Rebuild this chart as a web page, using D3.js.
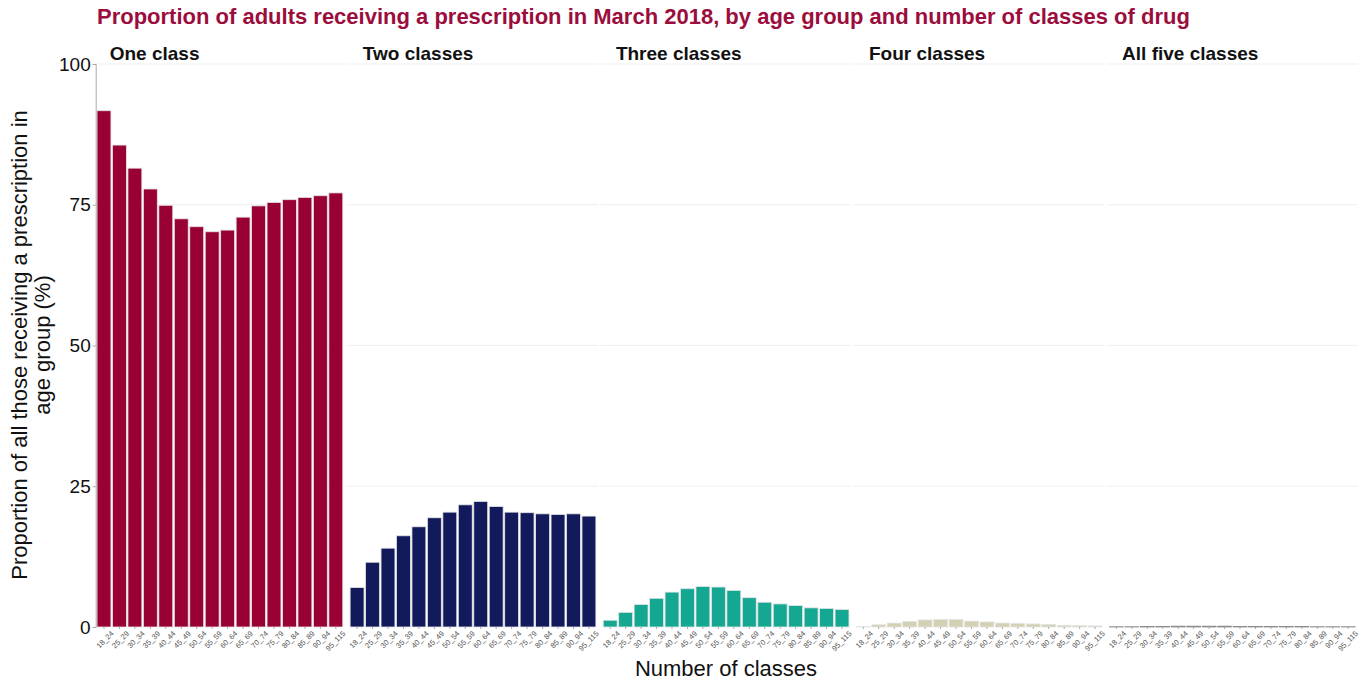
<!DOCTYPE html>
<meta charset="utf-8">
<style>
body { margin: 0; background: #fff; }
text { font-family: "Liberation Sans", Arial, sans-serif; }
.grid line { stroke: #efefef; stroke-width: 1; }
.xtick text { font-size: 7.5px; fill: #555; }
</style>
<svg width="1370" height="681"></svg>
<script src="https://cdn.jsdelivr.net/npm/d3@7"></script>
<script>

var ageGroups = ["18_24","25_29","30_34","35_39","40_44","45_49","50_54","55_59",
                 "60_64","65_69","70_74","75_79","80_84","85_89","90_94","95_115"];

var panelNames = ["One class", "Two classes", "Three classes", "Four classes", "All five classes"];
var panelColors = ["#990033", "#131a5c", "#14a892", "#d3d1b3", "#bdbdbd"];

var oneClass    = [91.7, 85.6, 81.5, 77.8, 74.9, 72.5, 71.1, 70.2, 70.5, 72.8, 74.8, 75.4, 75.9, 76.3, 76.6, 77.1];
var twoClasses  = [7.0, 11.5, 14.0, 16.2, 17.8, 19.4, 20.4, 21.7, 22.3, 21.4, 20.4, 20.3, 20.1, 20.0, 20.1, 19.7];
var threeClasses= [1.2, 2.6, 4.0, 5.1, 6.2, 6.8, 7.2, 7.1, 6.5, 5.2, 4.4, 4.1, 3.8, 3.4, 3.3, 3.1];
var fourClasses = [0.1, 0.4, 0.7, 1.0, 1.25, 1.35, 1.35, 1.05, 0.9, 0.7, 0.65, 0.55, 0.45, 0.3, 0.25, 0.2];
var fiveClasses = [0.05, 0.05, 0.1, 0.1, 0.15, 0.15, 0.15, 0.15, 0.1, 0.1, 0.1, 0.1, 0.1, 0.05, 0.05, 0.05];

var series = [oneClass, twoClasses, threeClasses, fourClasses, fiveClasses];
var yTicks = [0, 25, 50, 75, 100];

var svg = d3.select("svg");

var plotLeft = 94.7, plotTop = 64, plotBottom = 627,
    panelW = 250.4, panelGap = 2.7;

var y = d3.scaleLinear().domain([0, 100]).range([plotBottom, plotTop]);

// title
svg.append("text")
    .attr("x", 97).attr("y", 24)
    .style("font-size", "22px").style("font-weight", "bold")
    .style("fill", "#9b0d3c")
    .text("Proportion of adults receiving a prescription in March 2018, by age group and number of classes of drug");

// y axis title
svg.append("text")
    .attr("transform", "translate(27," + 345 + ") rotate(-90)")
    .attr("text-anchor", "middle")
    .style("font-size", "22px").style("fill", "#111")
  .selectAll("tspan")
  .data(["Proportion of all those receiving a prescription in", "age group (%)"])
  .enter().append("tspan")
    .attr("x", 0)
    .attr("dy", function(d, i) { return i === 0 ? 0 : 23; })
    .text(function(d) { return d; });

// x axis title
svg.append("text")
    .attr("x", 726).attr("y", 676)
    .attr("text-anchor", "middle")
    .style("font-size", "22px").style("fill", "#111")
    .text("Number of classes");

series.forEach(function(values, p) {
  var x0 = plotLeft + p * (panelW + panelGap);
  // ggplot style discrete expansion: 0.6 units each side
  var x = d3.scaleBand().domain(ageGroups)
      .range([x0, x0 + panelW])
      .paddingInner(0.1).paddingOuter(0.15);

  var g = svg.append("g");

  g.append("g").attr("class", "grid")
    .selectAll("line")
    .data(yTicks.slice(1))
    .enter().append("line")
      .attr("x1", x0).attr("x2", x0 + panelW)
      .attr("y1", function(d) { return y(d); })
      .attr("y2", function(d) { return y(d); });

  g.selectAll("rect")
    .data(values)
    .enter().append("rect")
      .attr("x", function(d, i) { return x(ageGroups[i]); })
      .attr("width", x.bandwidth())
      .attr("y", function(d) { return y(d); })
      .attr("height", function(d) { return y(0) - y(d); })
      .style("fill", panelColors[p])
      .style("stroke", p === 4 ? "#8c8c8c" : "#e4e4e4")
      .style("stroke-width", 0.8);

  var xAxis = g.append("g")
      .attr("class", "xtick")
      .attr("transform", "translate(0," + plotBottom + ")")
      .call(d3.axisBottom(x).tickSize(2).tickPadding(5));
  xAxis.select(".domain").remove();
  xAxis.selectAll("line").style("stroke", "#aaa");
  xAxis.selectAll("text")
      .attr("text-anchor", "end")
      .attr("dx", "0.3em").attr("dy", "0.7em")
      .attr("transform", "rotate(-45)");

  g.append("text")
      .attr("x", x0 + 15).attr("y", 60)
      .style("font-size", "19px").style("font-weight", "bold").style("fill", "#111")
      .text(panelNames[p]);
});

// y axis
var yAxis = svg.append("g")
    .attr("transform", "translate(" + (plotLeft + 1) + ",0)")
    .call(d3.axisLeft(y).tickValues(yTicks).tickSize(3).tickPadding(2));
yAxis.select(".domain").style("stroke", "#aaa");
yAxis.selectAll("line").style("stroke", "#aaa");
yAxis.selectAll("text").style("font-size", "19px").style("fill", "#111")
    .style("font-family", "Liberation Sans, Arial, sans-serif");

</script>
